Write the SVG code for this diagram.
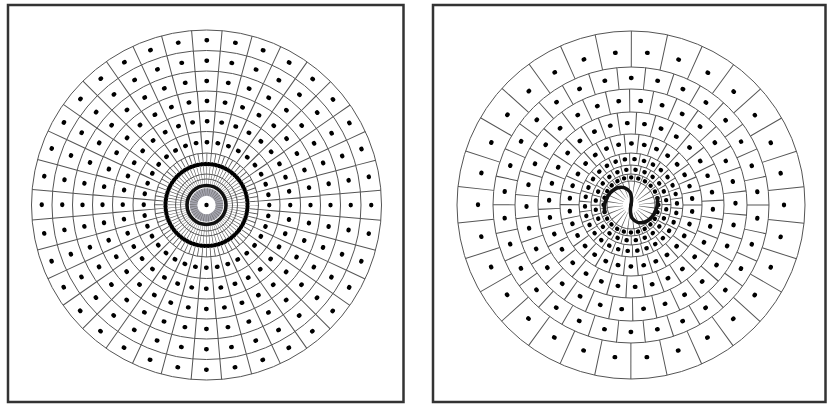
<svg xmlns="http://www.w3.org/2000/svg" width="827" height="404" viewBox="0 0 827 404">
<style>
.frame{fill:none;stroke:#333;stroke-width:2.5}
.ln{fill:none;stroke:#555;stroke-width:1}
.rad{fill:none;stroke:#555}
.dot{fill:none;stroke:#000;stroke-width:4.3;stroke-linecap:round}
.arm{fill:none;stroke:#111;stroke-width:3.6;stroke-linecap:round;stroke-linejoin:round}
</style>
<rect width="827" height="404" fill="#fff"/>
<g id="left-panel">
<rect class="frame" x="8" y="5" width="395.5" height="397"/>
<g transform="translate(206.5 205)">
<circle class="ln" r="175"/><circle class="ln" r="154.5"/><circle class="ln" r="134"/><circle class="ln" r="114"/><circle class="ln" r="94"/><circle class="ln" r="73.5"/><circle class="ln" r="52"/>
<circle class="rad" r="164.75" stroke-width="20.5" stroke-dasharray="1 27.7543" stroke-dashoffset="-13.877"/>
<circle class="rad" r="144.25" stroke-width="20.5" stroke-dasharray="1 24.1764" stroke-dashoffset="-12.088"/>
<circle class="rad" r="124" stroke-width="20" stroke-dasharray="1 20.6421" stroke-dashoffset="-10.321"/>
<circle class="rad" r="104" stroke-width="20" stroke-dasharray="1 17.1514" stroke-dashoffset="-8.576"/>
<circle class="rad" r="83.75" stroke-width="20.5" stroke-dasharray="1 13.6171" stroke-dashoffset="-6.809"/>
<circle class="rad" r="62.75" stroke-width="21.5" stroke-dasharray="1 9.9519" stroke-dashoffset="-4.976"/>
<circle class="rad" r="36.5" stroke-width="31" stroke="#777" stroke-dasharray="0.6 2.58522" stroke-dashoffset="0.3"/>
<circle class="dot" r="164.75" stroke-dasharray="0.6 28.1543" stroke-dashoffset="0.3"/>
<circle class="dot" r="144.25" stroke-dasharray="0.6 24.5764" stroke-dashoffset="0.3"/>
<circle class="dot" r="124" stroke-dasharray="0.6 21.0421" stroke-dashoffset="0.3"/>
<circle class="dot" r="104" stroke-dasharray="0.6 17.5514" stroke-dashoffset="0.3"/>
<circle class="dot" r="83.75" stroke-dasharray="0.6 14.0171" stroke-dashoffset="0.3"/>
<circle class="dot" r="62.75" stroke-dasharray="0.6 10.3519" stroke-dashoffset="0.3"/>
<circle class="dot" r="41" stroke-width="3.4" stroke-dasharray="0.3 3.27793" stroke-dashoffset="-1.639"/>
<circle class="ln" r="31" stroke="#777" stroke-width="0.8"/>
<circle class="ln" r="26" stroke="#777" stroke-width="0.8"/>
<circle r="13" fill="none" stroke="#a4a4ae" stroke-width="7.5"/>
<circle r="13" fill="none" stroke="#666" stroke-width="7.5" stroke-dasharray="0.5 1.77"/>
<circle r="19.5" fill="none" stroke="#111" stroke-width="3.6"/>
<circle r="2.2" fill="#000"/>
</g>
</g>
<g id="right-panel">
<rect class="frame" x="433" y="5" width="392.5" height="397"/>
<g transform="translate(631 205)">
<circle class="ln" r="174"/><circle class="ln" r="138"/><circle class="ln" r="116"/><circle class="ln" r="93"/><circle class="ln" r="71"/><circle class="ln" r="52"/><circle class="ln" r="40" stroke-width="0.9"/><circle class="ln" r="31" stroke-width="0.8"/><circle class="ln" r="24" stroke-width="0.8"/>
<g transform="rotate(-36)">
<circle class="rad" r="156" stroke-width="36" stroke-dasharray="1 31.6726" stroke-dashoffset="-15.836"/>
<circle class="dot" r="153" stroke-dasharray="0.6 31.4445" stroke-dashoffset="0.3"/>
</g>
<g transform="rotate(-30)">
<circle class="rad" r="127" stroke-width="22" stroke-dasharray="1 25.5988" stroke-dashoffset="-12.799"/>
<circle class="dot" r="127" stroke-dasharray="0.6 25.9988" stroke-dashoffset="0.3"/>
</g>
<g transform="rotate(-25)">
<circle class="rad" r="104.5" stroke-width="23" stroke-dasharray="1 20.8864" stroke-dashoffset="-10.443"/>
<circle class="dot" r="104.5" stroke-dasharray="0.6 21.2864" stroke-dashoffset="0.3"/>
</g>
<g transform="rotate(-21)">
<circle class="rad" r="82" stroke-width="22" stroke-dasharray="1 16.174" stroke-dashoffset="-8.087"/>
<circle class="dot" r="82" stroke-dasharray="0.6 16.574" stroke-dashoffset="0.3"/>
</g>
<g transform="rotate(-18)">
<circle class="rad" r="61.5" stroke-width="19" stroke-dasharray="1 11.8805" stroke-dashoffset="-5.940"/>
<circle class="dot" r="61.5" stroke-dasharray="0.6 12.2805" stroke-dashoffset="0.3"/>
</g>
<g transform="rotate(-14)">
<circle class="rad" r="46" stroke-width="12" stroke-dasharray="0.9 8.7342" stroke-dashoffset="-4.367"/>
<circle class="dot" r="46" stroke-width="3.6" stroke-dasharray="0.4 9.2342" stroke-dashoffset="0.2"/>
</g>
<g transform="rotate(-8)">
<circle class="rad" r="35.5" stroke-width="9" stroke-dasharray="0.9 8.3939" stroke-dashoffset="-4.197"/>
<circle class="dot" r="35.5" stroke-width="3.2" stroke-dasharray="0.3 8.9939" stroke-dashoffset="0.15"/>
</g>
<g>
<circle class="rad" r="27.5" stroke-width="7" stroke-dasharray="0.8 6.3995" stroke-dashoffset="-3.2"/>
<circle class="dot" r="27.5" stroke-width="2.9" stroke-dasharray="0.2 6.9995" stroke-dashoffset="0.1"/>
</g>
<circle class="rad" r="16" stroke-width="16" stroke="#888" stroke-dasharray="0.6 3.5888" stroke-dashoffset="-1.794"/>
<path class="arm" d="M0,0 C1,-5 1,-9 -1,-13 C-4,-17 -9,-19 -14,-17 C-19,-15 -23,-10 -25,-5 C-27,0 -27,4 -26,7"/>
<path class="arm" d="M0,0 C-1,5 -1,9 1,13 C4,17 9,19 14,17 C19,15 23,10 25,5 C27,0 27,-4 26,-7"/>
</g>
</g>
</svg>
